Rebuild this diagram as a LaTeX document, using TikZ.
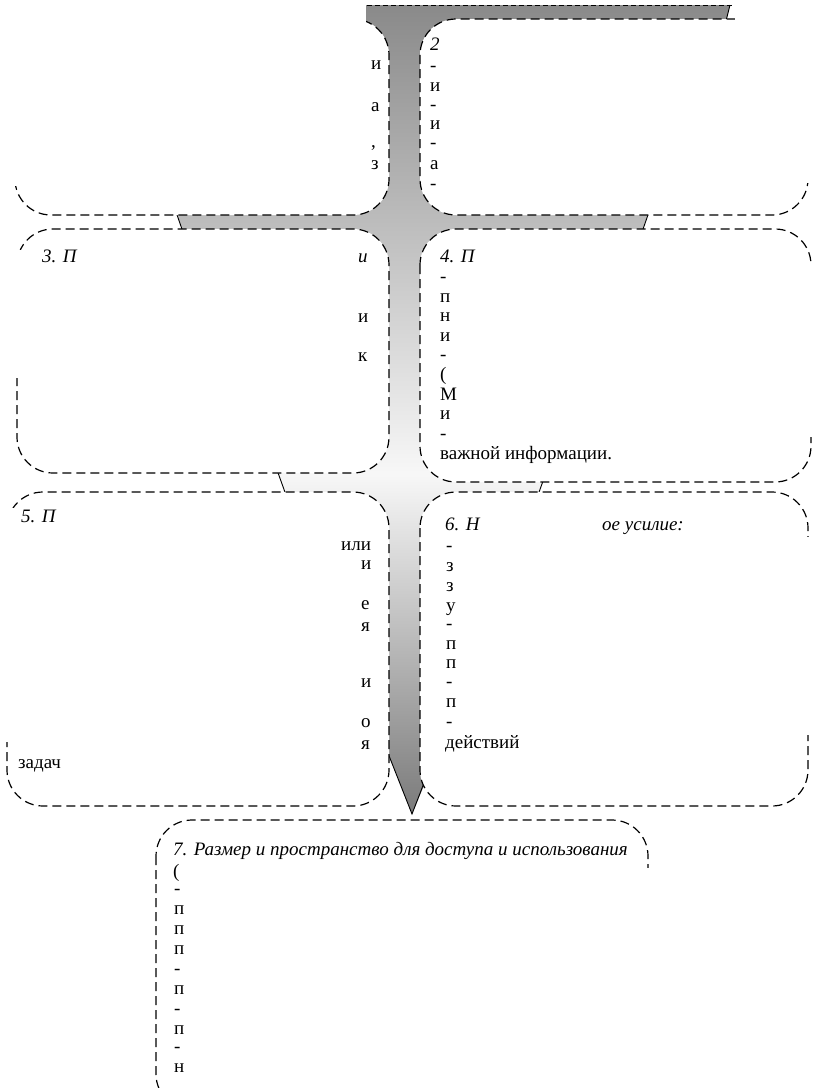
\documentclass[tikz,border=0pt]{standalone}
\usepackage{fontspec}
\setmainfont{Liberation Serif}
\pgfdeclareverticalshading{trunkshade}{100bp}{color(0bp)=(black!52); color(25bp)=(black!52); color(46bp)=(black!3); color(75bp)=(black!46); color(100bp)=(black!46)}
\tikzset{
  box/.style={draw=black, fill=white, line width=1.2pt, dash pattern=on 9pt off 5pt, rounded corners=36pt},
  patch/.style={fill=white, draw=none},
  edge/.style={draw=black, line width=0.9pt},
  txt/.style={anchor=base west, inner sep=0pt, font=\fontsize{19}{21}\selectfont},
  ttl/.style={txt, font=\fontsize{19}{21}\selectfont\itshape},
}
\begin{document}
\begin{tikzpicture}[x=1pt,y=-1pt]
\useasboundingbox (0,0) rectangle (815,1088);
\clip (0,0) rectangle (815,1088);
% gray tree
\shade[shading=trunkshade]
 (366,5) -- (730,5) -- (726,21) -- (460,21) -- (460,212) -- (649,212) -- (642,232) -- (460,232)
 -- (460,470) -- (547,470) -- (538,495) -- (460,495) -- (460,700) -- (412,814) -- (367,700)
 -- (350,700) -- (350,495) -- (286,495) -- (277,470) -- (350,470) -- (350,232) -- (183,232)
 -- (176,212) -- (350,212) -- (350,25) -- (366,25) -- cycle;
\draw[edge] (730,5) -- (726,21);
\draw[edge] (176,212) -- (183,232);
\draw[edge] (649,212) -- (642,232);
\draw[edge] (277,470) -- (286,495);
\draw[edge] (547,470) -- (538,495);
\draw[edge] (367,700) -- (412,814) -- (460,690);
% boxes
\draw[box] (15,19) rectangle (389,215);
\draw[box] (420,19) rectangle (808,215);
\draw[box] (17,229) rectangle (389,473);
\draw[box] (420,229) rectangle (811,482);
\draw[box] (7,492) rectangle (389,806);
\draw[box] (420,492) rectangle (808,806);
\draw[box] (156,820) rectangle (648,1110);
\draw[line width=1pt, dash pattern=on 5pt off 3pt] (367,5) -- (735,5);
% white patches
\fill[patch] (0,0) rectangle (366,186);
\fill[patch] (442,26) rectangle (800,186);
\fill[patch] (735,0) rectangle (815,183);
\fill[patch] (97,244) rectangle (357,266);
\fill[patch] (0,266) rectangle (357,378);
\fill[patch] (0,250) rectangle (32,266);
\fill[patch] (478,240) rectangle (800,266);
\fill[patch] (449,266) rectangle (800,437);
\fill[patch] (800,262) rectangle (815,437);
\fill[patch] (58,506) rectangle (340,535);
\fill[patch] (0,508) rectangle (14,535);
\fill[patch] (0,535) rectangle (340,742);
\fill[patch] (340,553) rectangle (360,742);
\fill[patch] (470,506) rectangle (596,536);
\fill[patch] (460,537) rectangle (815,735);
\fill[patch] (187,868) rectangle (815,1088);
% box 1 fragments
\node[txt] (a1) at (371,69) {и};
\node[txt] (a2) at (371,111) {а};
\node[txt] (a3) at (371,147) {,};
\node[txt] (a4) at (371,169) {з};
% box 2 fragments
\node[ttl] (b1) at (430,50) {2};
\node[txt] (b2) at (430,71) {-};
\node[txt] (b3) at (430,91) {и};
\node[txt] (b4) at (430,110) {-};
\node[txt] (b5) at (430,129) {и};
\node[txt] (b6) at (430,148) {-};
\node[txt] (b7) at (430,169) {а};
\node[txt] (b8) at (430,189) {-};
% box 3 fragments
\node[ttl] (c1) at (42,262) {3. П};
\node[ttl] (c2) at (358,262) {и};
\node[txt] (c3) at (358,322) {и};
\node[txt] (c4) at (358,361) {к};
% box 4 fragments
\node[ttl] (d1) at (440,262) {4. П};
\node[txt] (d2) at (440,282) {-};
\node[txt] (d3) at (440,302) {п};
\node[txt] (d4) at (440,321) {н};
\node[txt] (d5) at (440,341) {и};
\node[txt] (d6) at (440,360) {-};
\node[txt] (d7) at (440,380) {(};
\node[txt] (d8) at (440,400) {М};
\node[txt] (d9) at (440,419) {и};
\node[txt] (d10) at (440,439) {-};
\node[txt] (d11) at (440,459) {важной информации.};
% box 5 fragments
\node[ttl] (e1) at (21,522) {5. П};
\node[txt] (e2) at (341,550) {или};
\node[txt] (e3) at (361,569) {и};
\node[txt] (e4) at (361,609) {е};
\node[txt] (e5) at (361,631) {я};
\node[txt] (e6) at (361,687) {и};
\node[txt] (e7) at (361,727) {о};
\node[txt] (e8) at (361,749) {я};
\node[txt] (e9) at (18,768) {задач};
% box 6 fragments
\node[ttl] (f1) at (445,530) {6. Н};
\node[ttl, anchor=base east] (f2) at (684,530) {ое усилие:};
\node[txt] (f3) at (446,551) {-};
\node[txt] (f4) at (446,571) {з};
\node[txt] (f5) at (446,591) {з};
\node[txt] (f6) at (446,611) {у};
\node[txt] (f7) at (446,629) {-};
\node[txt] (f8) at (446,649) {п};
\node[txt] (f9) at (446,668) {п};
\node[txt] (f10) at (446,687) {-};
\node[txt] (f11) at (446,707) {п};
\node[txt] (f12) at (446,727) {-};
\node[txt] (f13) at (445,748) {действий};
% box 7
\node[ttl] (g1) at (173,855) {7. Размер и пространство для доступа и использования};
\node[txt] (g2) at (173,877) {(};
\node[txt] (g3) at (174,894) {-};
\node[txt] (g4) at (174,914) {п};
\node[txt] (g5) at (174,934) {п};
\node[txt] (g6) at (174,954) {п};
\node[txt] (g7) at (174,974) {-};
\node[txt] (g8) at (174,994) {п};
\node[txt] (g9) at (174,1014) {-};
\node[txt] (g10) at (174,1034) {п};
\node[txt] (g11) at (174,1052) {-};
\node[txt] (g12) at (174,1072) {н};
\end{tikzpicture}
\end{document}
